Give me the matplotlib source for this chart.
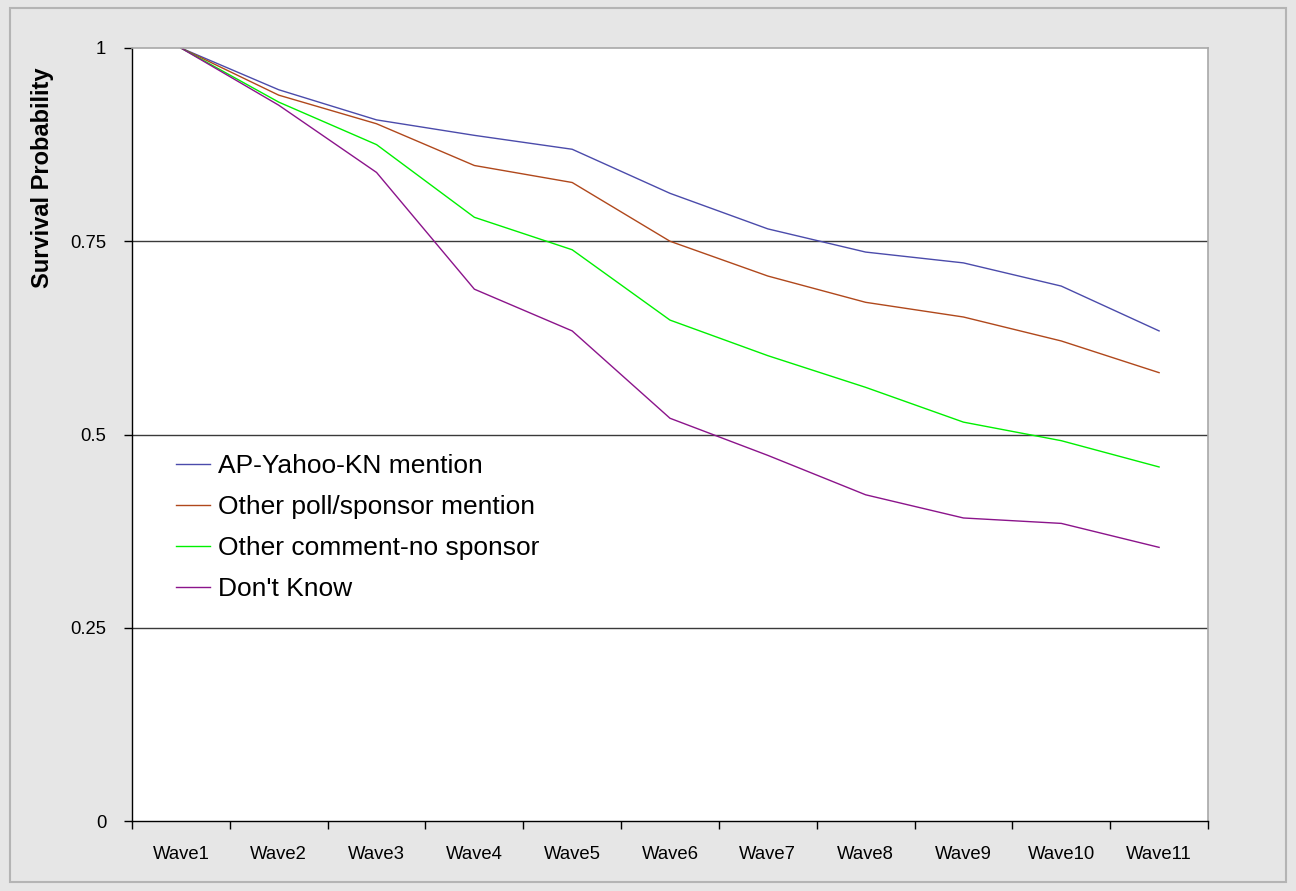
import numpy as np
import matplotlib
matplotlib.use("Agg")
import matplotlib.pyplot as plt
from matplotlib.patches import Rectangle

plt.rcParams['font.family'] = ['Liberation Sans', 'DejaVu Sans']

# data
waves = ['Wave1', 'Wave2', 'Wave3', 'Wave4', 'Wave5', 'Wave6',
         'Wave7', 'Wave8', 'Wave9', 'Wave10', 'Wave11']
ap_yahoo = [1.0, 0.946, 0.907, 0.887, 0.869, 0.812, 0.766, 0.736, 0.722, 0.692, 0.634]
other_poll = [1.0, 0.939, 0.902, 0.848, 0.826, 0.750, 0.705, 0.671, 0.652, 0.621, 0.580]
other_comment = [1.0, 0.930, 0.875, 0.781, 0.739, 0.648, 0.602, 0.561, 0.516, 0.492, 0.458]
dont_know = [1.0, 0.926, 0.839, 0.688, 0.634, 0.521, 0.473, 0.422, 0.392, 0.385, 0.354]

series_names = ['AP-Yahoo-KN mention', 'Other poll/sponsor mention',
                'Other comment-no sponsor', "Don't Know"]
series_colors = ['#4b4bab', '#b0481c', '#00f000', '#8b148b']

fig = plt.figure(figsize=(12.96, 8.91), dpi=100)
fig.patch.set_facecolor('#e6e6e6')

# outer border of the chart area
fig.patches.append(Rectangle((10 / 1296, 1 - 882 / 891), 1276 / 1296, 874 / 891,
                             transform=fig.transFigure, fill=False,
                             edgecolor='#b4b4b4', linewidth=1.5))

ax = fig.add_axes([132 / 1296, 1 - 821 / 891, 1076 / 1296, 773 / 891])
ax.set_facecolor('white')

x = np.arange(len(waves))
for vals, name, col in zip([ap_yahoo, other_poll, other_comment, dont_know],
                           series_names, series_colors):
    ax.plot(x, vals, color=col, linewidth=1.0, label=name)

ax.set_xlim(-0.5, len(waves) - 0.5)
ax.set_ylim(0, 1)

# horizontal gridlines
for gy in [0.25, 0.5, 0.75]:
    ax.axhline(gy, color='#3a3a3a', linewidth=1.0, zorder=0)

ax.set_yticks([0, 0.25, 0.5, 0.75, 1])
ax.set_yticklabels(['0', '0.25', '0.5', '0.75', '1'])
ax.tick_params(axis='y', direction='out', length=5.5, width=1, pad=13, labelsize=13.3)

ax.set_xticks(x)
ax.set_xticklabels(waves)
ax.tick_params(axis='x', which='major', length=0, pad=18, labelsize=13.3)
ax.set_xticks(np.arange(-0.5, len(waves)), minor=True)
ax.tick_params(axis='x', which='minor', direction='out', length=5.5, width=1)

for side in ['top', 'right']:
    ax.spines[side].set_color('#a8a8a8')
    ax.spines[side].set_linewidth(1.2)
for side in ['left', 'bottom']:
    ax.spines[side].set_color('black')
    ax.spines[side].set_linewidth(1.0)

fig.text(43 / 1296, 1 - 178 / 891, 'Survival Probability', rotation=90,
         ha='center', va='center', fontsize=17, fontweight='bold')

ax.legend(loc='upper left', bbox_to_anchor=(0.041, 0.475), frameon=False,
          fontsize=19, handlelength=1.3, handletextpad=0.28,
          labelspacing=0.65, borderpad=0, borderaxespad=0)

fig.savefig('out.png', dpi=100, facecolor=fig.get_facecolor())
